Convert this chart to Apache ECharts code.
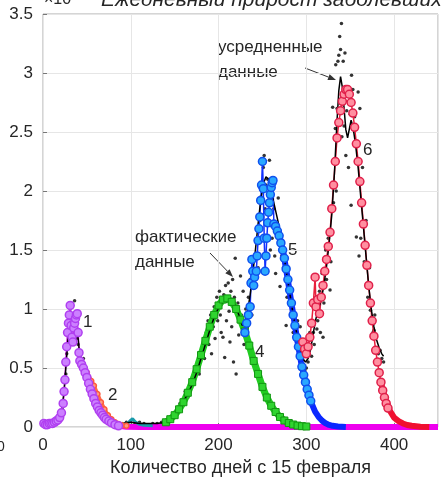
<!DOCTYPE html>
<html>
<head>
<meta charset="utf-8">
<script src="https://cdn.jsdelivr.net/npm/echarts@6/dist/echarts.min.js"></script>
<style>
html, body { margin: 0; padding: 0; background: #fff; }
#chart { width: 441px; height: 484px; }
</style>
</head>
<body>
<div id="chart"></div>
<script>
var FONT = '"Liberation Sans", Arial, sans-serif';
var TXT = '#262626';

var xTicks = [0, 100, 200, 300, 400];
var yTickLabels = ['0', '0.5', '1', '1.5', '2', '2.5', '3', '3.5'];

// волна 1 - фактические точки (фиолетовые кружки)
var wave1 = [[1,0.03],[3,0.02],[5,0.02],[7,0.03],[9,0.03],[11,0.03],[13,0.04],[15,0.05],[17,0.06],[19,0.08],[21,0.12],[23,0.2],[24,0.3],[25,0.4],[26,0.55],[27,0.68],[28,0.8],[29,0.88],[30,0.95],[31,1.03],[32,0.86],[33,0.76],[34,0.72],[35,0.84],[36,0.88],[37,0.92],[38,0.95],[39,0.96],[40,0.8],[41,0.63],[42,0.56],[44,0.53],[46,0.5],[48,0.46],[50,0.42],[52,0.37],[54,0.32],[56,0.28],[58,0.24],[60,0.2],[62,0.17],[64,0.14],[66,0.12],[68,0.1],[70,0.08],[72,0.065],[75,0.05],[78,0.035],[82,0.02],[86,0.01]];
var wave1Tail = [[42,0.56],[46,0.5],[50,0.42],[54,0.32],[58,0.24],[62,0.17],[66,0.12],[70,0.08],[75,0.05],[80,0.03],[86,0.01],[95,0.003],[110,0],[450,0]];
var wave2 = [[45,0.52],[50,0.46],[55,0.39],[58,0.35],[62,0.28],[66,0.21],[70,0.15],[74,0.1],[78,0.065],[82,0.04],[86,0.025],[90,0.015],[95,0.01]];
var wave3 = [[92,0.02],[96,0.03],[99,0.05],[102,0.07],[105,0.045],[109,0.025],[115,0.015],[125,0.01]];
var wave4 = [[140,0.04],[145,0.066],[150,0.1],[155,0.15],[160,0.21],[165,0.29],[170,0.38],[175,0.49],[180,0.61],[185,0.73],[190,0.85],[195,0.95],[200,1.03],[205,1.08],[210,1.09],[215,1.06],[220,1.0],[225,0.91],[230,0.81],[235,0.69],[240,0.56],[245,0.45],[250,0.34],[255,0.25],[260,0.18],[265,0.127],[270,0.085],[275,0.055],[280,0.034],[285,0.021],[290,0.012],[295,0.007],[300,0.004]];
var wave5 = [[230,0.8],[232,0.88],[234,0.95],[236,1.02],[237,1.22],[238,1.42],[239,1.32],[240,1.2],[241,1.27],[243,1.32],[244,1.45],[245,1.58],[246,1.68],[247,1.78],[248,1.92],[249,2.05],[250,2.25],[251,2.02],[252,1.6],[253,1.32],[254,1.45],[255,1.6],[256,1.73],[257,1.82],[258,1.9],[259,1.97],[260,2.03],[261,2.07],[262,2.09],[263,1.72],[265,1.7],[267,1.66],[269,1.62],[271,1.56],[273,1.5],[275,1.43],[277,1.34],[279,1.25],[281,1.16],[283,1.05],[285,0.95],[287,0.86],[289,0.76],[291,0.68],[293,0.6],[295,0.51],[297,0.44],[299,0.38],[301,0.32],[303,0.27],[305,0.22]];
var wave5Tail = [[262,1.72],[266,1.69],[270,1.6],[274,1.47],[278,1.29],[282,1.1],[286,0.91],[290,0.72],[294,0.55],[298,0.41],[302,0.29],[306,0.2],[310,0.13],[314,0.085],[318,0.053],[322,0.031],[326,0.018],[330,0.01],[336,0.004],[345,0.001]];
var wave6 = [[296,0.72],[298,0.66],[300,0.62],[302,0.68],[304,0.76],[306,0.88],[308,1.05],[310,1.27],[311,1.02],[313,1.08],[315,0.96],[317,1.1],[319,1.2],[321,1.32],[323,1.42],[325,1.53],[327,1.65],[329,1.85],[331,2.05],[333,2.25],[335,2.45],[337,2.58],[339,2.68],[341,2.76],[343,2.82],[345,2.86],[347,2.86],[349,2.82],[351,2.75],[353,2.66],[355,2.54],[357,2.4],[359,2.25],[361,2.08],[363,1.9],[365,1.72],[367,1.54],[369,1.37],[371,1.2],[373,1.05],[375,0.9],[377,0.77],[379,0.65],[381,0.55],[383,0.46],[385,0.38],[387,0.31],[389,0.25],[391,0.2],[393,0.16]];
var wave6Tail = [[385,0.38],[390,0.23],[395,0.14],[400,0.08],[405,0.05],[410,0.03],[415,0.017],[420,0.01],[430,0.003],[440,0]];

// усредненные данные
var avgLine = [[0,0.02],[5,0.02],[10,0.03],[15,0.04],[18,0.06],[20,0.1],[22,0.18],[24,0.3],[26,0.5],[28,0.7],[30,0.88],[32,0.92],[34,0.85],[36,0.82],[38,0.86],[40,0.75],[42,0.6],[45,0.52],[48,0.46],[52,0.39],[56,0.32],[60,0.26],[64,0.2],[68,0.14],[72,0.09],[76,0.06],[80,0.04],[90,0.03],[100,0.04],[110,0.03],[120,0.03],[130,0.03],[140,0.04],[145,0.05],[150,0.1],[155,0.16],[160,0.22],[165,0.28],[170,0.36],[175,0.46],[180,0.58],[185,0.7],[190,0.82],[195,0.93],[200,1.01],[205,1.06],[210,1.09],[215,1.07],[220,1.02],[224,0.93],[227,0.86],[230,0.88],[233,0.98],[236,1.12],[239,1.3],[242,1.5],[245,1.72],[248,1.92],[251,2.06],[254,2.12],[257,2.1],[260,2.0],[263,1.9],[266,1.8],[269,1.7],[272,1.57],[275,1.43],[278,1.28],[281,1.14],[284,1.0],[287,0.87],[290,0.76],[293,0.66],[296,0.58],[299,0.55],[302,0.58],[305,0.66],[308,0.8],[311,0.92],[314,1.0],[317,1.08],[320,1.2],[323,1.36],[326,1.56],[329,1.8],[332,2.15],[335,2.6],[337,2.85],[339,2.97],[341,2.88],[343,2.7],[345,2.52],[347,2.45],[349,2.46],[351,2.6],[353,2.55],[356,2.4],[359,2.2],[362,1.95],[365,1.7],[368,1.45],[371,1.2],[374,1.0],[377,0.85],[380,0.74],[383,0.67],[386,0.62],[388,0.6]];

// фактические данные (точки)
var rawDots = [[18,0.05],[20,0.08],[22,0.15],[24,0.3],[26,0.45],[27,0.62],[28,0.8],[29,0.72],[30,0.95],[31,1.0],[32,1.05],[33,0.9],[34,0.78],[35,0.85],[36,1.07],[37,0.92],[38,0.75],[40,0.7],[42,0.6],[44,0.55],[46,0.58],[48,0.5],[50,0.42],[52,0.4],[54,0.35],[56,0.3],[58,0.33],[60,0.27],[62,0.22],[64,0.2],[66,0.16],[68,0.13],[70,0.1],[73,0.07],[76,0.05],[80,0.04],[85,0.03],[90,0.03],[95,0.04],[100,0.05],[105,0.03],[110,0.04],[115,0.03],[120,0.02],[125,0.03],[130,0.03],[135,0.04],[140,0.05],
  [145,0.06],[148,0.1],[150,0.08],[153,0.15],[156,0.2],[158,0.18],[160,0.24],[162,0.3],[165,0.25],[167,0.35],[170,0.42],[172,0.38],[174,0.5],[176,0.55],[178,0.45],[180,0.62],[182,0.7],[184,0.58],[186,0.8],[188,0.9],[189,0.7],[191,0.95],[192,0.62],[194,0.85],[195,1.02],[196,0.75],[198,1.1],[199,0.9],[201,1.15],[202,0.95],[203,0.8],[205,0.76],[206,1.12],[207,0.59],[208,1.2],[209,0.9],[211,1.22],[212,0.98],[213,0.72],[214,1.15],[215,0.85],[216,1.25],[217,0.55],[218,1.1],[219,1.43],[220,0.45],[222,1.05],[223,0.78],[225,1.28],[226,0.95],[228,1.15],[229,0.7],[231,1.0],[233,0.85],
  [234,1.1],[236,1.25],[238,0.95],[240,1.4],[242,1.2],[244,1.6],[245,1.35],[247,1.75],[248,1.95],[249,1.6],[251,2.2],[252,2.3],[253,1.85],[254,2.05],[256,2.1],[257,1.75],[258,2.26],[259,1.5],[260,1.95],[261,1.6],[263,1.85],[264,1.45],[265,1.3],[267,1.7],[268,1.94],[269,1.55],[270,1.19],[272,1.45],[273,1.52],[274,1.35],[276,1.5],[277,0.86],[278,1.1],[280,1.25],[282,0.95],[284,1.0],[285,0.8],[287,0.85],[289,0.7],[290,0.9],[292,0.6],[293,0.85],[294,0.55],[296,0.43],[298,0.48],[300,0.5],
  [302,0.55],[304,0.8],[306,0.6],[308,0.8],[309,0.7],[311,1.1],[312,0.83],[313,0.9],[315,1.15],[316,0.8],[318,1.3],[319,0.76],[320,1.05],[322,1.5],[323,1.25],[325,1.6],[327,1.16],[328,1.4],[330,2.71],[331,1.9],[333,2.53],[333.5,3.07],[334,2.0],[335,2.7],[336,3.1],[337,3.15],[338,3.31],[339,3.2],[340,3.42],[340.5,2.46],[341,2.8],[342,3.1],[343,2.55],[344,3.17],[345,2.3],[346,2.68],[348,2.2],[350,2.65],[351,1.88],[351.5,2.98],[353,2.86],[355,2.63],[357,1.61],[359,2.84],[360,1.45],[361,2.7],[362,1.6],[364,2.2],[366,1.4],[368,1.75],[370,1.1],[372,1.35],[373,0.99],[374,0.93],[376,0.8],[377,0.82],[378,0.95],[380,0.67],[382,0.62],[384,0.65],[386,0.58],[388,0.55]];

var chart = echarts.init(document.getElementById('chart'));

function circles(data, fill, edge, line) {
    return {
        type: 'line', data: data, symbol: 'circle', symbolSize: 8,
        itemStyle: { color: fill, borderColor: edge, borderWidth: 1.5 },
        lineStyle: { color: line, width: 1.5 }
    };
}
function thick(data, color, w) {
    return { type: 'line', data: data, showSymbol: false, lineStyle: { color: color, width: w } };
}

function arrow(x1, y1, x2, y2) {
    var dx = x2 - x1, dy = y2 - y1, len = Math.sqrt(dx * dx + dy * dy);
    var ux = dx / len, uy = dy / len;
    var bx = x2 - ux * 8, by = y2 - uy * 8;
    return [
        { type: 'line', shape: { x1: x1, y1: y1, x2: bx, y2: by }, style: { stroke: '#333', lineWidth: 1 } },
        { type: 'polygon', shape: { points: [[x2, y2], [bx - uy * 3, by + ux * 3], [bx + uy * 3, by - ux * 3]] }, style: { fill: '#333' } }
    ];
}

function label(text, x, y, size) {
    return { type: 'text', x: x, y: y, style: { text: text, font: (size || 17) + 'px ' + FONT, fill: TXT, textVerticalAlign: 'middle' } };
}

var graphics = [
    { type: 'text', x: 101, y: 11, style: { text: 'Ежедневный прирост заболевших', font: 'italic 21px ' + FONT, fill: TXT, textVerticalAlign: 'bottom' } },
    { type: 'text', x: 44, y: 8, style: { text: '×10', font: '16px ' + FONT, fill: TXT, textVerticalAlign: 'bottom' } },
    { type: 'text', x: -3, y: 447, style: { text: '0', font: '14px ' + FONT, fill: TXT, textVerticalAlign: 'middle' } },
    label('1', 83, 322), label('2', 108, 395), label('4', 255, 352), label('5', 288, 250), label('6', 363, 150),
    label('фактические', 135, 237), label('данные', 135, 262),
    label('усредненные', 218, 47), label('данные', 218, 72)
].concat(arrow(210, 253, 233, 277)).concat(arrow(305, 68, 336, 80));

var option = {
    animation: false,
    backgroundColor: '#fff',
    grid: { left: 43, right: 3, top: 14, bottom: 57, show: true, borderColor: '#aaa', borderWidth: 1 },
    xAxis: {
        type: 'value', min: 0, max: 450, interval: 100,
        name: 'Количество дней с 15 февраля', nameLocation: 'middle', nameGap: 31,
        nameTextStyle: { fontSize: 18, color: TXT, fontFamily: FONT },
        axisLine: { show: false },
        axisTick: { inside: true, length: 4, lineStyle: { color: '#777' } },
        splitLine: { lineStyle: { color: '#e6e6e6' } },
        axisLabel: {
            fontSize: 17, color: TXT, fontFamily: FONT, margin: 10, showMaxLabel: false,
            formatter: function (v) { return xTicks.indexOf(v) >= 0 ? String(v) : ''; }
        }
    },
    yAxis: {
        type: 'value', min: 0, max: 3.5, interval: 0.5,
        axisLine: { show: false },
        axisTick: { inside: true, length: 4, lineStyle: { color: '#777' } },
        splitLine: { lineStyle: { color: '#e6e6e6' } },
        axisLabel: {
            fontSize: 17, color: TXT, fontFamily: FONT, margin: 10,
            formatter: function (v) { return yTickLabels[Math.round(v * 2)]; }
        }
    },
    graphic: graphics,
    series: [
        thick(wave1Tail, '#ee00ee', 6),
        Object.assign(circles(wave2, '#ff9a80', '#ff5a3c', '#ff5a3c'), { symbolSize: 5, lineStyle: { color: '#ff6a4a', width: 4 } }),
        thick(wave3, '#1a9aaa', 3),
        Object.assign(thick(wave4, '#22cc22', 7), { showSymbol: true, symbol: 'rect', symbolSize: 7, itemStyle: { color: '#2fd42f', borderColor: '#129612', borderWidth: 1 } }),
        thick(wave5Tail, '#0a28ff', 6),
        thick(wave6Tail, '#f01030', 6),
        circles(wave1, '#cc80ff', '#b040f0', '#d000e0'),
        circles(wave5, '#2aa8ff', '#1050ee', '#1030ff'),
        circles(wave6, '#ff8fa0', '#e0204a', '#e8203c'),
        { type: 'line', data: avgLine, showSymbol: false, lineStyle: { color: '#000', width: 1.5 } },
        { type: 'scatter', data: rawDots, symbolSize: 3.5, itemStyle: { color: '#000' } }
    ]
};
chart.setOption(option);
</script>
</body>
</html>
